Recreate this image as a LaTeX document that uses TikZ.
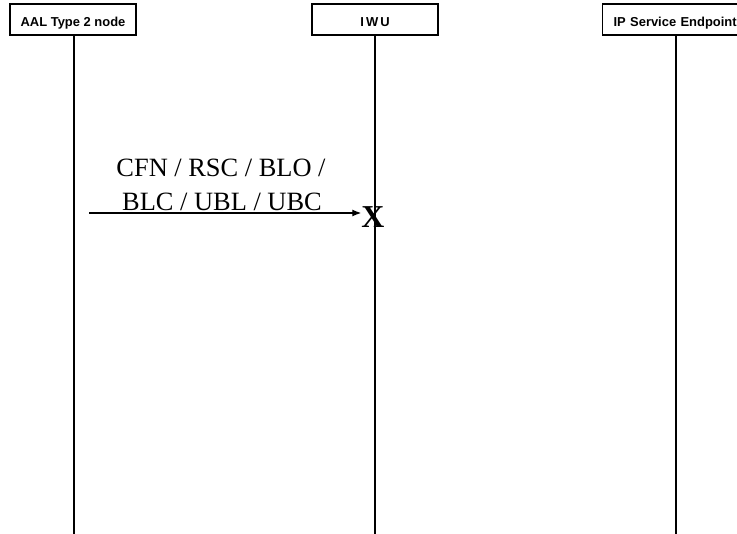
\documentclass[tikz,border=0pt]{standalone}
\usepackage{fontspec}
\setmainfont{Liberation Serif}
\newfontfamily\arialfont{Liberation Sans}
\usetikzlibrary{arrows.meta}
\begin{document}
\begin{tikzpicture}[x=1bp,y=-1bp,
  entity/.style={draw,line width=1.2bp,minimum height=31bp,inner sep=0pt,
    text height=15bp,text depth=0bp,
    font=\arialfont\bfseries\fontsize{13}{15}\selectfont},
  lifeline/.style={line width=1.3bp},
  msg/.style={line width=1.3bp,-{Latex[length=9bp,width=7bp]}},
  msgtext/.style={font=\fontsize{26.5}{34}\selectfont,align=center,inner sep=0pt}]
\useasboundingbox (0,0) rectangle (737,534);
\node[entity,minimum width=126bp] (aal) at (73,19.5) {AAL Type 2 node};
\node[entity,minimum width=126bp] (iwu) at (375,19.5) {I\,W\,U};
\node[entity,anchor=west,text width=148bp,align=left] (ip) at (602,19.5) {\hspace*{11bp}IP Service Endpoint};
\coordinate (aalend) at (74,534);
\coordinate (iwuend) at (375,534);
\coordinate (ipend) at (676,534);
\draw[lifeline] (aal.south -| aalend) -- (aalend);
\draw[lifeline] (iwu.south -| iwuend) -- (iwuend);
\draw[lifeline] (ip.south -| ipend) -- (ipend);
\coordinate (msgstart) at (89,213);
\node[font=\bfseries\fontsize{32}{32}\selectfont,inner sep=0pt] (x) at (373,217) {X};
\draw[msg] (msgstart) -- (msgstart -| x.west);
\node[msgtext,anchor=base] (l1) at (221,177) {CFN / RSC / BLO /};
\node[msgtext,anchor=base] (l2) at (222,211) {BLC / UBL / UBC};
\end{tikzpicture}
\end{document}
